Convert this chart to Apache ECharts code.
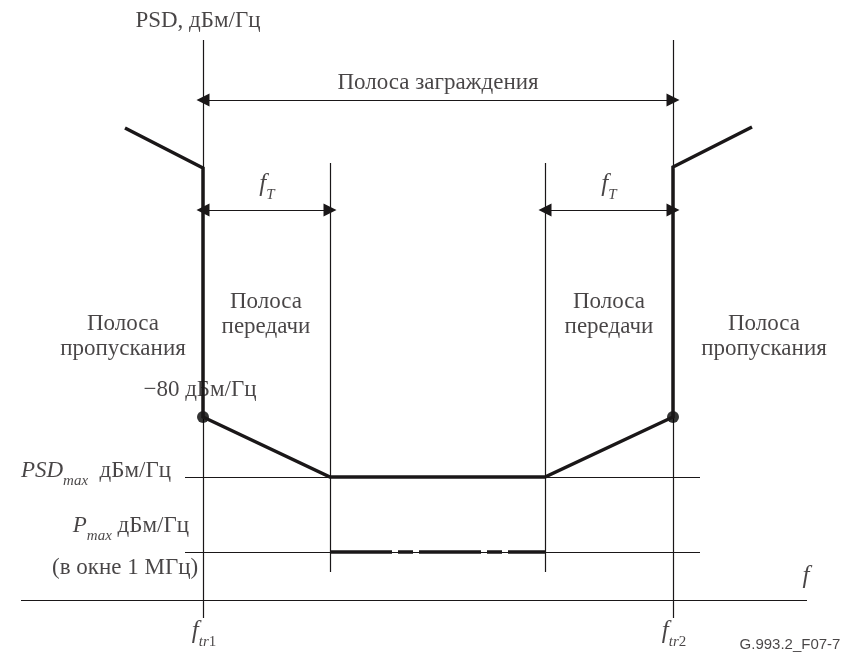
<!DOCTYPE html>
<html>
<head>
<meta charset="utf-8">
<script src="https://cdn.jsdelivr.net/npm/echarts@6/dist/echarts.min.js"></script>
<style>
  html, body { margin: 0; padding: 0; background: #fff; }
  #chart { width: 845px; height: 653px; }
</style>
</head>
<body>
<div id="chart"></div>
<script>
// schematic units: x = frequency position, y = level position (downwards)
const maskFreq  = [125, 203, 203, 330, 545, 673, 673, 752];
const maskLevel = [128, 168, 417, 477, 477, 417, 167, 127];

const dotFreq  = [203, 673];
const dotLevel = [417, 417];

const pmaxFreq  = [330, 545];
const pmaxLevel = [552, 552];

// thin guide lines [x1, y1, x2, y2]
const guideLines = [
  [203, 40, 203, 618],   // f_tr1
  [673, 40, 673, 618],   // f_tr2
  [330, 163, 330, 572],  // left passband edge
  [545, 163, 545, 572],  // right passband edge
  [21, 600, 807, 600],   // f axis
  [185, 477, 700, 477],  // PSDmax
  [185, 552, 700, 552]   // Pmax
];

// double-headed arrows [x1, y1, x2, y2]
const arrowLines = [
  [203, 100, 673, 100],
  [203, 210, 330, 210],
  [545, 210, 673, 210]
];

const labelText = [
  'PSD, дБм/Гц',
  'Полоса заграждения',
  '{i|f}{is|T}',
  '{i|f}{is|T}',
  'Полоса\nпередачи',
  'Полоса\nпередачи',
  'Полоса\nпропускания',
  'Полоса\nпропускания',
  '−80 дБм/Гц',
  '{ib|PSD}{is|max}{n|  дБм/Гц}',
  '{ib|P}{is|max}{n| дБм/Гц}',
  '(в окне 1 МГц)',
  '{i|f}',
  '{i|f}{is|tr}{s|1}',
  '{i|f}{is|tr}{s|2}',
  '{g|G.993.2_F07-7}'
];
const labelX = [198, 438, 267, 609, 266, 609, 123, 764, 200, 171, 189, 52, 806, 204, 674, 790];
const labelY = [21, 83, 190, 190, 314, 314, 336, 336, 390, 476, 531, 568, 582, 637, 637, 645];
const labelAlign = ['center', 'center', 'center', 'center', 'center', 'center', 'center', 'center',
  'center', 'right', 'right', 'left', 'center', 'center', 'center', 'center'];

const ink = '#1a1718';
const serif = 'Liberation Serif';

const richStyles = {
  i:  { fontFamily: serif, fontStyle: 'italic', fontSize: 25, color: ink, verticalAlign: 'bottom', padding: [0, 0, 6, 0] },
  ib: { fontFamily: serif, fontStyle: 'italic', fontSize: 23, color: ink, verticalAlign: 'bottom', padding: [0, 0, 6, 0] },
  is: { fontFamily: serif, fontStyle: 'italic', fontSize: 15, color: ink, verticalAlign: 'bottom' },
  s:  { fontFamily: serif, fontSize: 15, color: ink, verticalAlign: 'bottom' },
  n:  { fontFamily: serif, fontSize: 23, color: ink, verticalAlign: 'bottom', padding: [0, 0, 6, 0] },
  g:  { fontFamily: 'Liberation Sans', fontSize: 15, color: ink }
};

const series = [];

series.push({
  type: 'lines',
  coordinateSystem: 'cartesian2d',
  silent: true,
  lineStyle: { color: ink, width: 1.2, opacity: 1 },
  data: guideLines.map(s => ({ coords: [[s[0], s[1]], [s[2], s[3]]] }))
});

series.push({
  type: 'lines',
  coordinateSystem: 'cartesian2d',
  silent: true,
  symbol: ['triangle', 'triangle'],
  symbolSize: 13,
  lineStyle: { color: ink, width: 1.2, opacity: 1 },
  itemStyle: { color: ink },
  data: arrowLines.map(s => ({ coords: [[s[0], s[1]], [s[2], s[3]]] }))
});

series.push({
  type: 'line',
  silent: true,
  showSymbol: false,
  lineStyle: { color: ink, width: 3.5, join: 'miter' },
  data: maskFreq.map((x, i) => [x, maskLevel[i]])
});

series.push({
  type: 'line',
  silent: true,
  showSymbol: false,
  lineStyle: { color: ink, width: 3.5, type: [62, 6, 15, 6] },
  data: pmaxFreq.map((x, i) => [x, pmaxLevel[i]])
});

series.push({
  type: 'scatter',
  silent: true,
  symbol: 'circle',
  symbolSize: 12,
  itemStyle: { color: '#000' },
  data: dotFreq.map((x, i) => [x, dotLevel[i]])
});

labelText.forEach((t, i) => {
  series.push({
    type: 'scatter',
    silent: true,
    symbolSize: 0,
    data: [[labelX[i], labelY[i]]],
    label: {
      show: true,
      position: 'inside',
      align: labelAlign[i],
      verticalAlign: 'middle',
      formatter: t,
      fontFamily: serif,
      fontSize: 23,
      lineHeight: 25,
      color: ink,
      rich: richStyles
    }
  });
});

const chart = echarts.init(document.getElementById('chart'));
chart.setOption({
  animation: false,
  backgroundColor: '#fff',
  grid: { left: 0, right: 0, top: 0, bottom: 0 },
  xAxis: { type: 'value', min: 0, max: 845, show: false },
  yAxis: { type: 'value', min: 0, max: 653, inverse: true, show: false },
  series: series
});
</script>
</body>
</html>
